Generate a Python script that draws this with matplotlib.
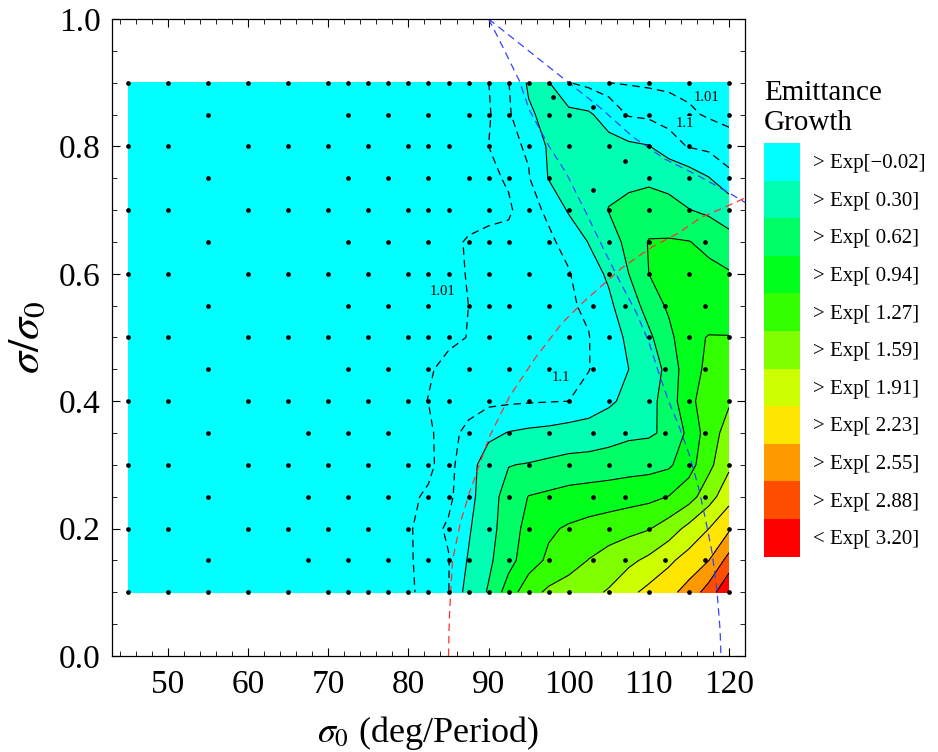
import numpy as np
import matplotlib
matplotlib.use("Agg")
import matplotlib.pyplot as plt
from matplotlib.patches import Patch

plt.rcParams["font.family"] = ["Liberation Serif", "DejaVu Serif"]
plt.rcParams["mathtext.fontset"] = "stix"

# grid of the contour data: sigma0 (deg/period) and sigma/sigma0
sigma0 = [45, 75, 80, 82.5, 85, 87.5, 90, 92.5, 95, 97.5, 100, 102.5, 105,
          107.5, 110, 112.5, 115, 117.5, 120]
ratio = [0.10, 0.15, 0.20, 0.25, 0.30, 0.35, 0.40, 0.45, 0.50, 0.55, 0.60,
         0.65, 0.70, 0.75, 0.80, 0.85, 0.90]

# log of the emittance growth, one row per ratio value
log_growth = [
    [0, 0, -0.005, 0.041, 0.09, 0.39, 0.65, 1.10, 1.47, 1.65, 1.74, 1.83, 1.94, 2.15, 2.32, 2.46, 2.67, 3.03, 3.50],
    [0, 0, 0.0, 0.042, 0.088, 0.32, 0.56, 0.83, 1.12, 1.33, 1.46, 1.60, 1.72, 1.84, 1.98, 2.17, 2.36, 2.55, 3.00],
    [0, 0, 0.0, 0.047, 0.114, 0.27, 0.50, 0.79, 1.04, 1.22, 1.31, 1.38, 1.44, 1.50, 1.57, 1.75, 2.00, 2.23, 2.50],
    [0, 0, -0.003, 0.020, 0.064, 0.20, 0.49, 0.74, 0.95, 1.00, 1.05, 1.08, 1.11, 1.15, 1.19, 1.28, 1.46, 1.78, 2.12],
    [0, 0, -0.005, -0.005, 0.045, 0.20, 0.43, 0.61, 0.64, 0.69, 0.74, 0.76, 0.78, 0.81, 0.83, 0.89, 1.14, 1.51, 1.85],
    [0, 0, -0.005, -0.005, 0.053, 0.13, 0.245, 0.31, 0.34, 0.36, 0.40, 0.42, 0.49, 0.56, 0.58, 0.68, 1.02, 1.45, 1.71],
    [0, 0, -0.003, 0.011, 0.03, 0.045, 0.06, 0.07, 0.08, 0.088, 0.095, 0.16, 0.25, 0.38, 0.52, 0.76, 1.19, 1.43, 1.56],
    [0, 0, -0.005, 0.006, 0.02, 0.04, 0.05, 0.055, 0.06, 0.065, 0.075, 0.09, 0.19, 0.30, 0.47, 0.70, 1.18, 1.32, 1.42],
    [0, 0, -0.005, -0.003, 0.003, 0.011, 0.025, 0.04, 0.05, 0.06, 0.072, 0.09, 0.20, 0.34, 0.56, 0.84, 1.22, 1.28, 1.28],
    [0, 0, -0.005, -0.003, 0.0, 0.01, 0.022, 0.035, 0.05, 0.065, 0.08, 0.116, 0.248, 0.46, 0.74, 1.00, 1.10, 1.16, 1.13],
    [0, 0, -0.005, -0.003, 0.0, 0.012, 0.025, 0.038, 0.05, 0.065, 0.085, 0.19, 0.34, 0.62, 0.94, 1.06, 1.06, 1.02, 0.97],
    [0, 0, -0.003, -0.002, 0.002, 0.013, 0.022, 0.032, 0.045, 0.07, 0.14, 0.31, 0.49, 0.70, 0.96, 0.97, 0.95, 0.86, 0.72],
    [0, 0, -0.005, -0.005, -0.004, -0.002, -0.002, 0.0, 0.049, 0.12, 0.325, 0.48, 0.63, 0.68, 0.75, 0.72, 0.63, 0.56, 0.47],
    [0, 0, -0.005, -0.005, -0.004, -0.002, -0.005, 0.018, 0.082, 0.31, 0.40, 0.48, 0.54, 0.57, 0.57, 0.52, 0.42, 0.31, 0.13],
    [0, 0, -0.005, -0.005, -0.004, -0.003, 0.01, 0.054, 0.117, 0.33, 0.38, 0.40, 0.38, 0.34, 0.31, 0.16, 0.085, 0.05, 0.025],
    [0, 0, -0.005, -0.005, -0.004, -0.002, 0.002, 0.07, 0.27, 0.36, 0.36, 0.33, 0.20, 0.08, 0.059, 0.04, 0.018, 0.004, 0.0],
    [0, 0, -0.005, -0.005, -0.004, -0.003, 0.009, 0.09, 0.33, 0.31, 0.10, 0.05, 0.01, 0.004, 0.0, -0.003, -0.004, -0.005, -0.005],
]

bounds = [-0.02, 0.30, 0.62, 0.94, 1.27, 1.59, 1.91, 2.23, 2.55, 2.88, 3.20, 3.52]
band_colors = ["#00FFFF", "#00FFB3", "#00FF66", "#00FF1A", "#33FF00", "#80FF00",
               "#CCFF00", "#FFE600", "#FF9900", "#FF4D00", "#FF0000"]
band_labels = ["> Exp[\u22120.02]", "> Exp[ 0.30]", "> Exp[ 0.62]", "> Exp[ 0.94]",
               "> Exp[ 1.27]", "> Exp[ 1.59]", "> Exp[ 1.91]", "> Exp[ 2.23]",
               "> Exp[ 2.55]", "> Exp[ 2.88]", "< Exp[ 3.20]"]
growth_lines = [1.01, 1.1]

# simulated points (rows of sigma/sigma0 with their sigma0 values)
sample_rows = [
    (0.90, [45, 50, 55, 60, 65, 70, 72.5, 75, 77.5, 80, 82.5, 85, 87.5, 90, 92.5, 95, 97.5, 100, 105, 110, 115, 120]),
    (0.85, [55, 72.5, 77.5, 82.5, 87.5, 90, 92.5, 97.5, 100, 107, 110, 115, 120]),
    (0.80, [45, 50, 60, 65, 70, 75, 80, 82.5, 85, 90, 95, 100, 105, 110, 115, 120]),
    (0.75, [55, 72.5, 77.5, 82.5, 87.5, 90, 92.5, 97.5, 110, 115, 120]),
    (0.70, [45, 50, 60, 65, 70, 75, 80, 82.5, 85, 90, 95, 100, 105, 110, 115, 120]),
    (0.65, [55, 72.5, 77.5, 82.5, 87.5, 90, 92.5, 97.5, 105, 110, 117]),
    (0.60, [45, 50, 60, 65, 70, 75, 80, 82.5, 85, 90, 95, 100, 105, 110, 115, 120]),
    (0.55, [55, 72.5, 77.5, 82.5, 87.5, 90, 92.5, 97.5, 103, 107, 112, 117]),
    (0.50, [45, 50, 60, 65, 70, 75, 80, 82.5, 85, 90, 95, 100, 105, 110, 115, 120]),
    (0.45, [55, 72.5, 77.5, 82.5, 87.5, 92.5, 97.5, 103, 112, 117]),
    (0.40, [45, 50, 60, 65, 70, 75, 80, 82.5, 85, 90, 95, 100, 105, 110, 115, 120]),
    (0.35, [55, 67.5, 72.5, 77.5, 87.5, 92.5, 97.5, 103, 107, 112, 117]),
    (0.30, [45, 50, 60, 65, 70, 75, 80, 82.5, 85, 90, 95, 100, 105, 110, 115, 120]),
    (0.25, [55, 67.5, 72.5, 77.5, 82.5, 85, 87.5, 92.5, 97.5, 103, 107, 112, 117]),
    (0.20, [45, 50, 60, 65, 70, 75, 80, 85, 90, 95, 100, 105, 110, 120]),
    (0.15, [55, 67.5, 72.5, 77.5, 82.5, 85, 87.5, 92.5, 97.5, 103, 107, 112, 117]),
    (0.10, [45, 50, 55, 60, 65, 70, 72.5, 75, 77.5, 80, 82.5, 85, 87.5, 90, 92.5, 95, 97.5, 100, 105, 110, 115, 120]),
]
extra_x = [98, 103, 107, 103]
extra_y = [0.877, 0.862, 0.777, 0.732]

# reference curves (dashed)
blue_a_x = [90, 95, 100, 104, 108, 112, 116, 120, 122]
blue_a_y = [1.0, 0.95, 0.9, 0.86, 0.815, 0.78, 0.755, 0.727, 0.712]
blue_b_x = [90, 91.3, 93.8, 95.1, 97.6, 99.7, 102.2, 104.5, 106.3, 108.4, 110, 111.2,
            112.5, 113.7, 115, 116.2, 117.1, 117.9, 118.5, 118.9, 119.0]
blue_b_y = [1.0, 0.968, 0.904, 0.857, 0.799, 0.758, 0.695, 0.635, 0.59, 0.54, 0.493, 0.446,
            0.399, 0.363, 0.318, 0.265, 0.213, 0.162, 0.104, 0.04, 0.0]
red_x = [85, 85.1, 85.5, 86.5, 87.6, 90.1, 92.6, 95.9, 99.2, 101.7, 104.2, 106.6, 110.4,
         113.7, 116.6, 119.6, 122]
red_y = [0.0, 0.06, 0.15, 0.21, 0.256, 0.344, 0.407, 0.469, 0.523, 0.554, 0.582, 0.609,
         0.642, 0.664, 0.689, 0.705, 0.719]

# contour label text positions
label_text = ["1.01", "1.1", "1.01", "1.1"]
label_x = [117.2, 114.5, 84.3, 99.0]
label_y = [0.876, 0.836, 0.572, 0.437]

fig = plt.figure(figsize=(9.38, 7.52), dpi=100)
ax = fig.add_axes([0.1194, 0.1277, 0.6748, 0.8471])

z = np.array(log_growth)
ax.contourf(sigma0, ratio, z, levels=bounds, colors=band_colors)
ax.contour(sigma0, ratio, z, levels=bounds[1:-1], colors="k", linewidths=0.8)
ax.contour(sigma0, ratio, z, levels=np.log(growth_lines), colors="k",
           linewidths=0.9, linestyles=[(0, (6, 4))])

ax.plot(blue_a_x, blue_a_y, color="#3344ff", lw=0.9, ls=(0, (6, 4)))
ax.plot(blue_b_x, blue_b_y, color="#3344ff", lw=0.9, ls=(0, (6, 4)))
ax.plot(red_x, red_y, color="#ff3030", lw=0.9, ls=(0, (6, 4)))

for yv, xs in sample_rows:
    ax.plot(xs, [yv] * len(xs), "o", color="k", ms=3.4, mew=0, clip_on=False)
ax.plot(extra_x, extra_y, "o", color="k", ms=3.4, mew=0)

for t, lx, ly in zip(label_text, label_x, label_y):
    ax.text(lx, ly, t, fontsize=10.5, ha="center", va="center",
            bbox=dict(facecolor="#00FFFF", edgecolor="none", pad=0.6))

ax.set_xlim(43, 122)
ax.set_ylim(0, 1.0)
ax.set_xticks(np.arange(50, 121, 10))
ax.set_xticks(np.arange(44, 122, 2), minor=True)
ax.set_yticks(np.arange(0, 1.01, 0.2))
ax.set_yticks(np.arange(0, 1.01, 0.05), minor=True)
ax.yaxis.set_major_formatter(plt.FuncFormatter(lambda v, p: f"{v:.1f}"))
ax.tick_params(which="both", direction="in", top=True, right=True, labelsize=24)
ax.tick_params(which="major", length=6, width=0.8)
ax.tick_params(which="minor", length=3.5, width=0.6)
ax.tick_params(axis="x", pad=10)
ax.tick_params(axis="y", pad=8)
for s in ax.spines.values():
    s.set_linewidth(0.9)

ax.set_xlabel(r"$\sigma_0$ (deg/Period)", fontsize=26, labelpad=10)
ax.set_ylabel(r"$\sigma/\sigma_0$", fontsize=32, labelpad=8)

handles = [Patch(facecolor=c, edgecolor="none") for c in band_colors]
leg = fig.legend(handles, band_labels, loc="upper left",
                 bbox_to_anchor=(764 / 938, 1 - 80 / 752), frameon=False,
                 fontsize=15, title="Emittance\nGrowth", title_fontsize=21,
                 handlelength=1.75, handleheight=2.4, labelspacing=0,
                 handletextpad=0.6, borderpad=0, borderaxespad=0,
                 alignment="left")
leg._legend_box.sep = 5

fig.savefig("out.png", dpi=100)
